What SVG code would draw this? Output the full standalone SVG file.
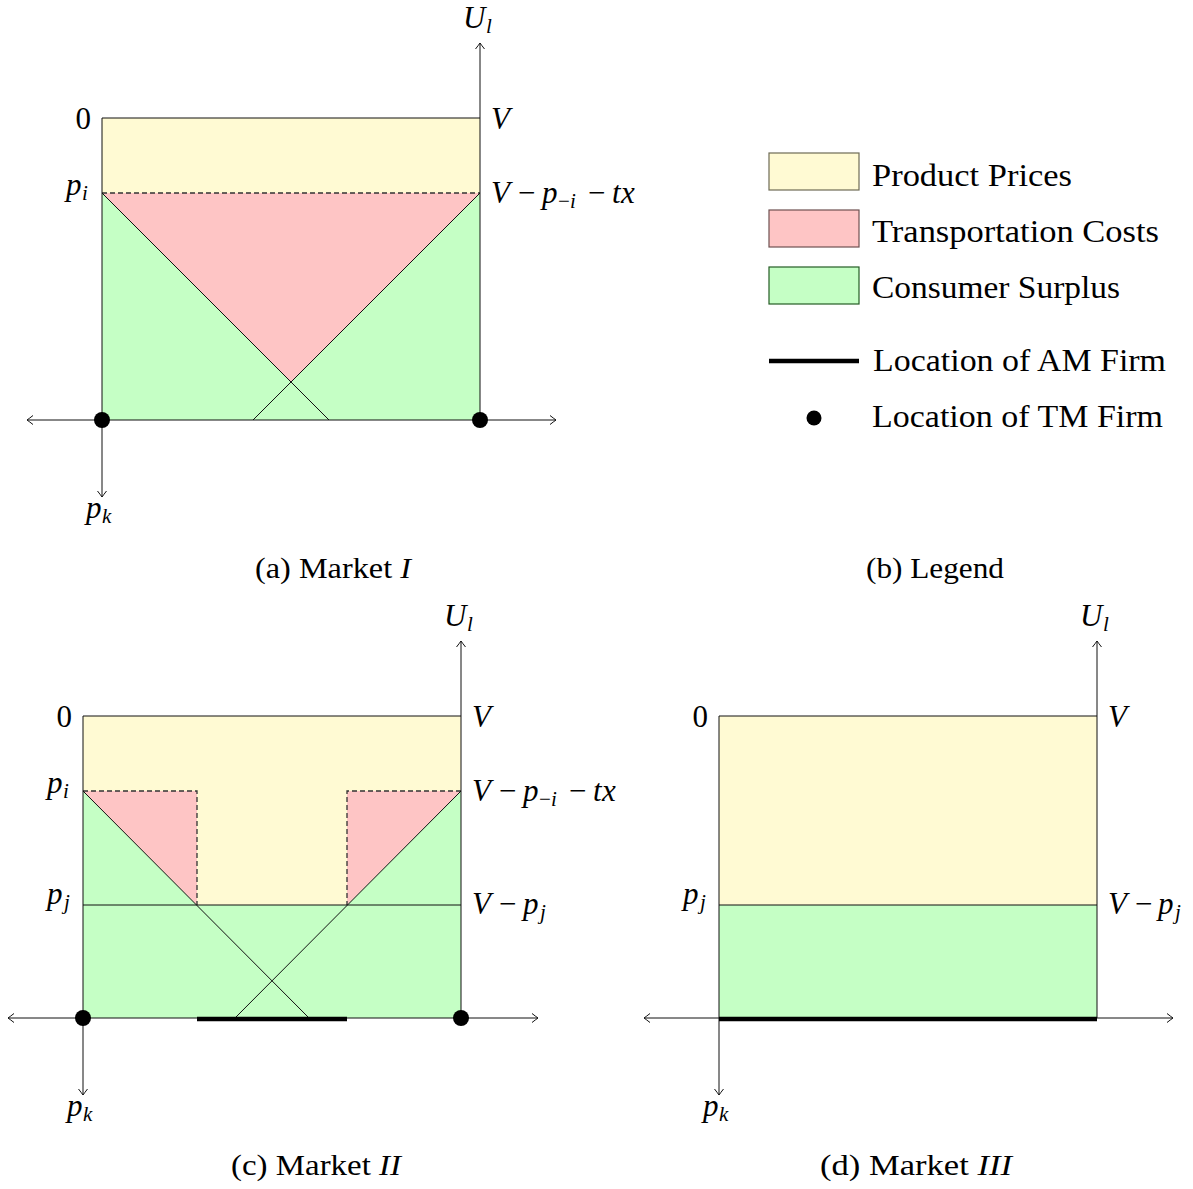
<svg xmlns="http://www.w3.org/2000/svg" width="1193" height="1189" viewBox="0 0 1193 1189">
<style>
text{font-family:"Liberation Serif","DejaVu Serif","Times New Roman",serif;fill:#000}
.m{font-size:31px;font-style:italic}
.up{font-style:normal}
.sub{font-size:21px}
.cap{font-size:29px}
.leg{font-size:32px}
.yel{fill:#FFFAD3}
.red{fill:#FEC5C5}
.grn{fill:#C5FFC5}
.ln{stroke:#111;stroke-width:1;fill:none}
.dash{stroke:#333;stroke-width:1.3;stroke-dasharray:5 3;fill:none}
.ax{stroke:#111;stroke-width:1;fill:none}
.am{stroke:#000;stroke-width:4.5;fill:none}
</style>
<defs>
<marker id="arr" viewBox="-8 -6 10 12" refX="0" refY="0" markerWidth="10" markerHeight="12" markerUnits="userSpaceOnUse" orient="auto-start-reverse">
<path d="M-6,-4.5 Q-1.5,-1 0,0 Q-1.5,1 -6,4.5" fill="none" stroke="#111" stroke-width="1"/>
</marker>
</defs>
<rect width="1193" height="1189" fill="#fff"/>

<!-- Panel a -->
<g id="panel-a">
<rect class="yel" x="102" y="118" width="378" height="75"/>
<polygon class="grn" points="102,193 291,382 480,193 480,420 102,420"/>
<polygon class="red" points="102,193 480,193 291,382"/>
<line class="dash" x1="102" y1="193" x2="480" y2="193"/>
<line class="ln" x1="102" y1="193" x2="329" y2="420"/>
<line class="ln" x1="480" y1="193" x2="253" y2="420"/>
<polyline class="ln" points="102,420 102,118 480,118"/>
<text class="m"><tspan x="463" y="28">U</tspan><tspan class="sub" x="486" y="33">l</tspan></text>
<text class="m up" x="91" y="129" text-anchor="end">0</text>
<text class="m" x="491" y="129">V</text>
<text class="m"><tspan x="66" y="195">p</tspan><tspan class="sub" x="82" y="200">i</tspan></text>
<text class="m"><tspan x="491" y="203">V</tspan><tspan class="up" x="518" y="203">−</tspan><tspan x="542" y="203">p</tspan><tspan class="sub up" x="558" y="208">−</tspan><tspan class="sub" x="570" y="208">i</tspan><tspan class="up" x="588" y="203">−</tspan><tspan x="612" y="203">t</tspan><tspan x="621" y="203">x</tspan></text>
<text class="m"><tspan x="86" y="518">p</tspan><tspan class="sub" x="102" y="523">k</tspan></text>
<text class="cap" x="333" y="578" text-anchor="middle" textLength="156" lengthAdjust="spacingAndGlyphs">(a) Market <tspan font-style="italic">I</tspan></text>
</g>

<!-- Legend -->
<g id="legend">
<rect x="769" y="153" width="90" height="37" fill="#FFFAD3" stroke="#6e6b55" stroke-width="1.2"/>
<rect x="769" y="210" width="90" height="37" fill="#FEC5C5" stroke="#6e5050" stroke-width="1.2"/>
<rect x="769" y="267" width="90" height="37" fill="#C5FFC5" stroke="#245c24" stroke-width="1.2"/>
<line class="am" x1="769" y1="361" x2="859" y2="361"/>
<circle cx="814" cy="418" r="7.5" fill="#000"/>
<text class="leg" x="872" y="186" textLength="200" lengthAdjust="spacingAndGlyphs">Product Prices</text>
<text class="leg" x="872" y="242" textLength="287" lengthAdjust="spacingAndGlyphs">Transportation Costs</text>
<text class="leg" x="872" y="298" textLength="248" lengthAdjust="spacingAndGlyphs">Consumer Surplus</text>
<text class="leg" x="873" y="371" textLength="293" lengthAdjust="spacingAndGlyphs">Location of AM Firm</text>
<text class="leg" x="872" y="427" textLength="291" lengthAdjust="spacingAndGlyphs">Location of TM Firm</text>
<text class="cap" x="935" y="578" text-anchor="middle" textLength="138" lengthAdjust="spacingAndGlyphs">(b) Legend</text>
</g>

<!-- Panel c -->
<g id="panel-c">
<rect class="yel" x="83" y="716" width="378" height="189"/>
<rect class="grn" x="83" y="905" width="378" height="113"/>
<polygon class="grn" points="83,791 197,905 83,905"/>
<polygon class="grn" points="461,791 461,905 347,905"/>
<polygon class="red" points="83,791 197,791 197,905"/>
<polygon class="red" points="461,791 347,791 347,905"/>
<polyline class="dash" points="83,791 197,791 197,905"/>
<polyline class="dash" points="461,791 347,791 347,905"/>
<line class="ln" x1="83" y1="905" x2="461" y2="905"/>
<line class="ln" x1="83" y1="791" x2="309" y2="1018"/>
<line class="ln" x1="461" y1="791" x2="235" y2="1018"/>
<polyline class="ln" points="83,1018 83,716 461,716"/>
<text class="m"><tspan x="444" y="626">U</tspan><tspan class="sub" x="467" y="631">l</tspan></text>
<text class="m up" x="72" y="727" text-anchor="end">0</text>
<text class="m" x="472" y="727">V</text>
<text class="m"><tspan x="47" y="793">p</tspan><tspan class="sub" x="63" y="798">i</tspan></text>
<text class="m"><tspan x="472" y="801">V</tspan><tspan class="up" x="499" y="801">−</tspan><tspan x="523" y="801">p</tspan><tspan class="sub up" x="539" y="806">−</tspan><tspan class="sub" x="551" y="806">i</tspan><tspan class="up" x="569" y="801">−</tspan><tspan x="593" y="801">t</tspan><tspan x="602" y="801">x</tspan></text>
<text class="m"><tspan x="47" y="904">p</tspan><tspan class="sub" x="64" y="909">j</tspan></text>
<text class="m"><tspan x="472" y="914">V</tspan><tspan class="up" x="499" y="914">−</tspan><tspan x="523" y="914">p</tspan><tspan class="sub" x="540" y="919">j</tspan></text>
<text class="m"><tspan x="67" y="1116">p</tspan><tspan class="sub" x="83" y="1121">k</tspan></text>
<text class="cap" x="316" y="1175" text-anchor="middle" textLength="170" lengthAdjust="spacingAndGlyphs">(c) Market <tspan font-style="italic">II</tspan></text>
</g>

<!-- Panel d -->
<g id="panel-d">
<rect class="yel" x="719" y="716" width="378" height="189"/>
<rect class="grn" x="719" y="905" width="378" height="113"/>
<line class="ln" x1="719" y1="905" x2="1097" y2="905"/>
<polyline class="ln" points="719,1018 719,716 1097,716"/>
<text class="m"><tspan x="1080" y="626">U</tspan><tspan class="sub" x="1103" y="631">l</tspan></text>
<text class="m up" x="708" y="727" text-anchor="end">0</text>
<text class="m" x="1108" y="727">V</text>
<text class="m"><tspan x="683" y="904">p</tspan><tspan class="sub" x="700" y="909">j</tspan></text>
<text class="m"><tspan x="1108" y="914">V</tspan><tspan class="up" x="1135" y="914">−</tspan><tspan x="1158" y="914">p</tspan><tspan class="sub" x="1175" y="919">j</tspan></text>
<text class="m"><tspan x="703" y="1116">p</tspan><tspan class="sub" x="719" y="1121">k</tspan></text>
<text class="cap" x="916" y="1175" text-anchor="middle" textLength="192" lengthAdjust="spacingAndGlyphs">(d) Market <tspan font-style="italic">III</tspan></text>
</g>

<!-- Connectors: axes -->
<g id="connectors">
<line class="ax" x1="27" y1="420" x2="556" y2="420" marker-start="url(#arr)" marker-end="url(#arr)"/>
<line class="ax" x1="480" y1="420" x2="480" y2="43" marker-end="url(#arr)"/>
<line class="ax" x1="102" y1="420" x2="102" y2="497" marker-end="url(#arr)"/>
<line class="ax" x1="8" y1="1018" x2="538" y2="1018" marker-start="url(#arr)" marker-end="url(#arr)"/>
<line class="ax" x1="461" y1="1018" x2="461" y2="641" marker-end="url(#arr)"/>
<line class="ax" x1="83" y1="1018" x2="83" y2="1095" marker-end="url(#arr)"/>
<line class="ax" x1="644" y1="1018" x2="1173" y2="1018" marker-start="url(#arr)" marker-end="url(#arr)"/>
<line class="ax" x1="1097" y1="1018" x2="1097" y2="641" marker-end="url(#arr)"/>
<line class="ax" x1="719" y1="1018" x2="719" y2="1095" marker-end="url(#arr)"/>
<line class="am" x1="197" y1="1019" x2="347" y2="1019"/>
<line class="am" x1="719" y1="1019" x2="1097" y2="1019"/>
<circle cx="102" cy="420" r="8" fill="#000"/>
<circle cx="480" cy="420" r="8" fill="#000"/>
<circle cx="83" cy="1018" r="8" fill="#000"/>
<circle cx="461" cy="1018" r="8" fill="#000"/>
</g>
</svg>
